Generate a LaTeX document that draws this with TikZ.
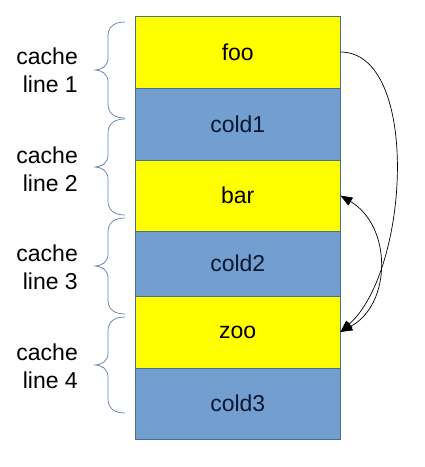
\documentclass[tikz,border=0pt]{standalone}
\usepackage{fontspec}
\setmainfont{Liberation Sans}
\usetikzlibrary{arrows.meta}
\definecolor{yel}{HTML}{FFFF00}
\definecolor{blu}{HTML}{729FCF}
\definecolor{edge}{HTML}{4A6F8F}
\definecolor{bracecol}{HTML}{5E7FA8}
\definecolor{navy}{HTML}{0B1730}
\newcommand\cachebrace[1]{%
  \draw[bracecol, line width=0.7pt]
    (125,#1) .. controls (114,#1) and (108,{#1+5}) .. (108,{#1+14})
    -- (108,{#1+36})
    .. controls (108,{#1+44}) and (102,{#1+48}) .. (94,{#1+48})
    .. controls (102,{#1+48}) and (108,{#1+52}) .. (108,{#1+60})
    -- (108,{#1+82})
    .. controls (108,{#1+91}) and (114,{#1+96}) .. (125,{#1+96});}
\begin{document}
\begin{tikzpicture}[x=1pt,y=-1pt,
  row/.style={draw=edge, line width=0.7pt, minimum width=204.5pt, inner sep=0pt,
    font=\fontsize{23}{27}\selectfont},
  hot/.style={row, fill=yel, text=black},
  cold/.style={row, fill=blu, text=navy},
  lbl/.style={align=right, anchor=east, inner sep=0pt, font=\fontsize{23}{28}\selectfont},
  arr/.style={black, line width=0.7pt},
  tip/.style={Triangle[length=12pt,width=9pt]}]
\useasboundingbox (0,0) rectangle (425,467);
\node[hot,  minimum height=72pt] (foo)   at (237.75,52)    {foo};
\node[cold, minimum height=72pt] (cold1) at (237.75,124)   {cold1};
\node[hot,  minimum height=71pt] (bar)   at (237.75,195.5) {bar};
\node[cold, minimum height=65pt] (cold2) at (237.75,263.5) {cold2};
\node[hot,  minimum height=72pt] (zoo)   at (237.75,332)   {zoo};
\node[cold, minimum height=71pt] (cold3) at (237.75,403.5) {cold3};
\cachebrace{22}
\cachebrace{119}
\cachebrace{218}
\cachebrace{317}
\node[lbl] (l1) at (78,70)  {cache\\line 1};
\node[lbl] (l2) at (78,169) {cache\\line 2};
\node[lbl] (l3) at (78,267) {cache\\line 3};
\node[lbl] (l4) at (78,366) {cache\\line 4};
\draw[arr, -{Triangle[length=12pt,width=9pt]}] (foo.east) .. controls (420,52) and (410,270) .. (zoo.east);
\draw[arr, {Triangle[length=12pt,width=9pt]}-{Triangle[length=12pt,width=9pt]}] (bar.east) .. controls (392,226) and (392,304) .. (zoo.east);
\end{tikzpicture}
\end{document}
